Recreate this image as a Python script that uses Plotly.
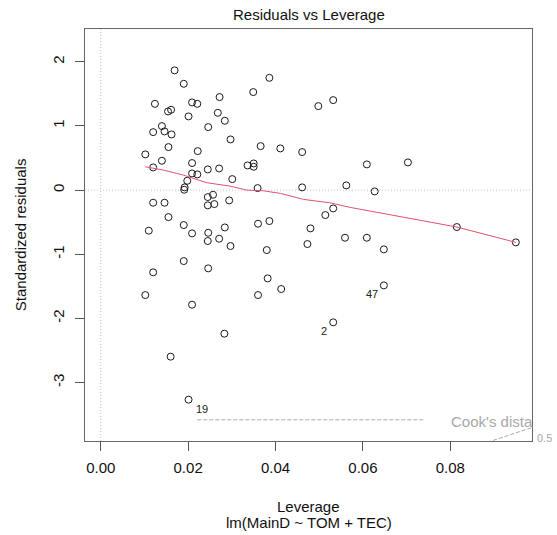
import plotly.graph_objects as go

# ---------------- data ----------------
leverage = [
    0.0169, 0.0190, 0.0386, 0.0349, 0.0272, 0.0124, 0.0209, 0.0221, 0.0498, 0.0154,
    0.0161, 0.0201, 0.0268, 0.0284, 0.0246, 0.0140, 0.0120, 0.0146, 0.0162, 0.0297,
    0.0155, 0.0366, 0.0411, 0.0461, 0.0222, 0.0102, 0.0140, 0.0209, 0.0120, 0.0245,
    0.0271, 0.0336, 0.0350, 0.0350, 0.0209, 0.0221, 0.0301, 0.0198, 0.0192, 0.0191,
    0.0359, 0.0461, 0.0257, 0.0245, 0.0245, 0.0260, 0.0294, 0.0120, 0.0146, 0.0514,
    0.0155, 0.0360, 0.0386, 0.0190, 0.0480, 0.0110, 0.0209, 0.0284, 0.0246, 0.0245,
    0.0271, 0.0297, 0.0473, 0.0380, 0.0190, 0.0246, 0.0120, 0.0382, 0.0413, 0.0102,
    0.0360, 0.0209, 0.0532, 0.0609, 0.0703, 0.0562, 0.0627, 0.0532, 0.0559, 0.0609,
    0.0648, 0.0815, 0.0950, 0.0648, 0.0532, 0.0283, 0.0160, 0.0201,
]
std_resid = [
    1.865, 1.656, 1.749, 1.527, 1.449, 1.344, 1.366, 1.344, 1.308, 1.225,
    1.251, 1.148, 1.204, 1.080, 0.981, 0.997, 0.903, 0.914, 0.867, 0.789,
    0.670, 0.685, 0.649, 0.592, 0.607, 0.556, 0.457, 0.421, 0.353, 0.322,
    0.337, 0.384, 0.415, 0.363, 0.259, 0.244, 0.171, 0.145, 0.042, 0.005,
    0.031, 0.042, -0.073, -0.109, -0.238, -0.218, -0.161, -0.197, -0.197, -0.389,
    -0.421, -0.524, -0.483, -0.545, -0.597, -0.633, -0.675, -0.582, -0.665, -0.794,
    -0.758, -0.872, -0.841, -0.935, -1.106, -1.220, -1.282, -1.376, -1.542, -1.636,
    -1.636, -1.786, 1.402, 0.400, 0.431, 0.073, -0.021, -0.286, -0.743, -0.743,
    -0.924, -0.576, -0.815, -1.485, -2.061, -2.238, -2.596, -3.266,
]
# observation ids shown on the plot -> index into the arrays above
id_labels = ["19", "47", "2"]
id_index = [87, 83, 84]
id_side = ["right", "left", "left"]

# lowess smooth (red line)
smooth_x = [0.0102, 0.0143, 0.0189, 0.0243, 0.0296, 0.0334, 0.0372, 0.0411,
            0.0464, 0.0524, 0.0571, 0.0647, 0.0724, 0.0815, 0.0950]
smooth_y = [0.363, 0.312, 0.234, 0.114, 0.062, 0.000, -0.011, -0.051,
            -0.145, -0.198, -0.270, -0.363, -0.457, -0.576, -0.815]

# Cook's distance 0.5 contour (lower right corner)
cook_x = [0.0885, 0.0940, 0.0987]
cook_y = [-3.93, -3.80, -3.70]
cook_level = "0.5"

# legend of the Cook's distance line (as visible in the reference, cut by the box)
legend_seg_x = [0.0221, 0.0739]
legend_seg_y = [-3.58, -3.58]
legend_text_x = 0.0800
legend_text_y = -3.60
legend_text = "Cook's dista"

x_ticks = [0.00, 0.02, 0.04, 0.06, 0.08]
x_tick_labels = ["0.00", "0.02", "0.04", "0.06", "0.08"]
y_ticks = [-3, -2, -1, 0, 1, 2]
y_tick_labels = ["-3", "-2", "-1", "0", "1", "2"]

x_range = [-0.0036, 0.0987]
y_range = [-3.91, 2.51]

FONT = "Liberation Sans, Arial, Helvetica, sans-serif"
GRAY = "#a8a8a8"

fig = go.Figure()

# Cook's legend dashed segment
fig.add_trace(go.Scatter(x=legend_seg_x, y=legend_seg_y, mode="lines",
                         line=dict(color=GRAY, width=1, dash="4px,2px"),
                         hoverinfo="skip"))
# Cook's contour
fig.add_trace(go.Scatter(x=cook_x, y=cook_y, mode="lines",
                         line=dict(color=GRAY, width=1, dash="4px,2px"),
                         hoverinfo="skip"))
# points
fig.add_trace(go.Scatter(x=leverage, y=std_resid, mode="markers",
                         marker=dict(symbol="circle-open", size=7,
                                     color="#1a1a1a", line=dict(width=1, color="#1a1a1a")),
                         hoverinfo="x+y"))
# smooth
fig.add_trace(go.Scatter(x=smooth_x, y=smooth_y, mode="lines",
                         line=dict(color="#DF536B", width=1), hoverinfo="skip"))

annotations = []
for lab, idx, side in zip(id_labels, id_index, id_side):
    annotations.append(dict(
        x=leverage[idx], y=std_resid[idx], xref="x", yref="y",
        text=lab, showarrow=False,
        xanchor="left" if side == "right" else "right",
        xshift=5 if side == "right" else -4,
        yanchor="middle", yshift=-9,
        font=dict(family=FONT, size=11, color="#222222")))

# Cook's legend text
annotations.append(dict(x=legend_text_x, y=legend_text_y, xref="x", yref="y",
                        text=legend_text, showarrow=False, xanchor="left",
                        yanchor="middle", borderpad=0,
                        font=dict(family=FONT, size=15, color=GRAY)))
# contour level label
annotations.append(dict(x=x_range[1], y=-3.86, xref="x", yref="y", text=cook_level,
                        showarrow=False, xanchor="left", xshift=3, yanchor="middle",
                        font=dict(family=FONT, size=11, color=GRAY)))
# title
annotations.append(dict(x=0.5, y=1.036, xref="paper", yref="paper",
                        text="Residuals vs Leverage", showarrow=False,
                        xanchor="center", yanchor="middle",
                        font=dict(family=FONT, size=15, color="#111")))
# x axis titles
annotations.append(dict(x=0.5, y=-0.158, xref="paper", yref="paper",
                        text="Leverage", showarrow=False,
                        xanchor="center", yanchor="middle",
                        font=dict(family=FONT, size=15, color="#111")))
annotations.append(dict(x=0.5, y=-0.197, xref="paper", yref="paper",
                        text="lm(MainD ~ TOM + TEC)", showarrow=False,
                        xanchor="center", yanchor="middle",
                        font=dict(family=FONT, size=15, color="#111")))
# y axis title
annotations.append(dict(x=-0.145, y=0.5, xref="paper", yref="paper",
                        text="Standardized residuals", showarrow=False,
                        textangle=-90, xanchor="center", yanchor="middle",
                        font=dict(family=FONT, size=15, color="#111")))

shapes = [
    dict(type="line", xref="x", yref="paper", x0=0, x1=0, y0=0, y1=1,
         line=dict(color="#c4c4c4", width=1, dash="1px,2px"), layer="below"),
    dict(type="line", xref="paper", yref="y", x0=0, x1=1, y0=0, y1=0,
         line=dict(color="#c4c4c4", width=1, dash="1px,2px"), layer="below"),
]

fig.update_layout(
    width=557, height=535, autosize=False,
    margin=dict(l=85, r=25, t=29, b=94, pad=0),
    paper_bgcolor="white", plot_bgcolor="white",
    showlegend=False,
    font=dict(family=FONT, size=15, color="#111"),
    annotations=annotations,
    shapes=shapes,
    xaxis=dict(range=x_range, tickmode="array", tickvals=x_ticks, ticktext=x_tick_labels,
               ticks="outside", ticklen=9, tickcolor="#555", tickwidth=1,
               ticklabelstandoff=4,
               showline=True, linecolor="#666", linewidth=1, mirror=True,
               showgrid=False, zeroline=False,
               tickfont=dict(family=FONT, size=15, color="#111")),
    yaxis=dict(range=y_range, tickmode="array", tickvals=y_ticks, ticktext=y_tick_labels,
               tickangle=-90, ticklabelstandoff=5,
               ticks="outside", ticklen=9, tickcolor="#555", tickwidth=1,
               showline=True, linecolor="#666", linewidth=1, mirror=True,
               showgrid=False, zeroline=False,
               tickfont=dict(family=FONT, size=15, color="#111")),
)

fig.write_html("out.html")
